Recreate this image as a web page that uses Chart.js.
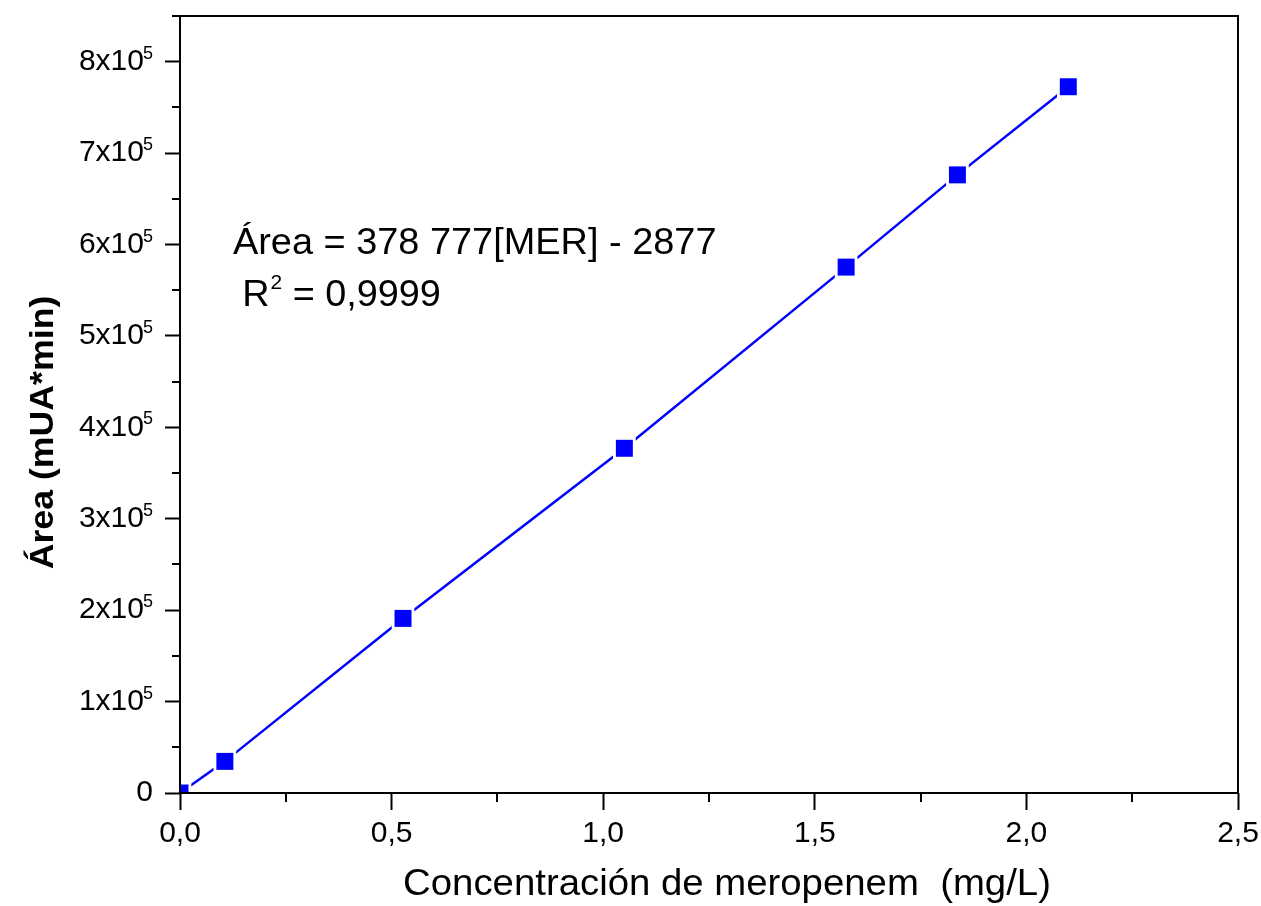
<!DOCTYPE html>
<html>
<head>
<meta charset="UTF-8">
<title>Curva de calibración meropenem</title>
<script src="https://cdn.jsdelivr.net/npm/chart.js"></script>
<style>
  html, body { margin: 0; padding: 0; background: #fff; }
  canvas { display: block; }
</style>
</head>
<body>
<canvas id="calibracion" width="1261" height="906"></canvas>
<script>
// Concentración (mg/L) y área del pico (mUA*min)
const concentracion = [0, 0.106, 0.527, 1.05, 1.574, 1.837, 2.099];
const area = [0, 34600, 191000, 377100, 575300, 676200, 772600];

// Marcas de los ejes
const xMajor = [0, 0.5, 1.0, 1.5, 2.0, 2.5];
const xMinor = [0.25, 0.75, 1.25, 1.75, 2.25];
const yMajor = [0, 100000, 200000, 300000, 400000, 500000, 600000, 700000, 800000];
const yMinor = [50000, 150000, 250000, 350000, 450000, 550000, 650000, 750000, 850000];

// Títulos y texto de la ecuación de ajuste
const tituloX = 'Concentración de meropenem  (mg/L)';
const tituloY = 'Área (mUA*min)';
const ecuacion = 'Área = 378 777[MER] - 2877';
const r2 = '0,9999';

const FONT = "'Liberation Sans', Arial, sans-serif";
const puntos = concentracion.map((c, i) => ({ x: c, y: area[i] }));

// texto algo ensanchado en horizontal
function textoAncho(ctx, txt, x, y, sx, rot) {
  ctx.save();
  ctx.translate(x, y);
  if (rot) ctx.rotate(rot);
  ctx.scale(sx, 1);
  ctx.fillText(txt, 0, 0);
  const w = ctx.measureText(txt).width * sx;
  ctx.restore();
  return w;
}

// marco, marcas menores, etiquetas del eje y, títulos y ecuación
const extras = {
  id: 'extras',
  afterDatasetsDraw(chart) {
    const { ctx, chartArea: a, scales: { x, y } } = chart;
    ctx.save();
    ctx.strokeStyle = '#000';
    ctx.lineWidth = 2;
    ctx.strokeRect(a.left, a.top, a.right - a.left, a.bottom - a.top);
    ctx.beginPath();
    xMinor.forEach(v => {
      const px = Math.round(x.getPixelForValue(v));
      ctx.moveTo(px, a.bottom);
      ctx.lineTo(px, a.bottom + 9);
    });
    yMinor.forEach(v => {
      const py = Math.round(y.getPixelForValue(v));
      ctx.moveTo(a.left, py);
      ctx.lineTo(a.left - 8, py);
    });
    ctx.stroke();

    // etiquetas del eje y con exponente
    ctx.fillStyle = '#000';
    ctx.textAlign = 'right';
    ctx.textBaseline = 'middle';
    yMajor.forEach(v => {
      const py = y.getPixelForValue(v);
      const right = a.left - 27;
      if (v === 0) {
        ctx.font = '30px ' + FONT;
        ctx.fillText('0', right, py);
        return;
      }
      ctx.font = '18px ' + FONT;
      ctx.textBaseline = 'alphabetic';
      ctx.fillText('5', right, py - 3);
      const supW = ctx.measureText('5').width;
      ctx.font = '30px ' + FONT;
      ctx.textBaseline = 'middle';
      ctx.fillText((v / 100000) + 'x10', right - supW + 1, py);
    });

    // títulos de los ejes
    ctx.textAlign = 'center';
    ctx.font = '36px ' + FONT;
    textoAncho(ctx, tituloX, (a.left + a.right) / 2 + 18, 885, 1.065, 0);
    ctx.font = 'bold 34px ' + FONT;
    textoAncho(ctx, tituloY, 44, (a.top + a.bottom) / 2 + 28, 1.05, -Math.PI / 2);

    // ecuación y coeficiente
    ctx.textAlign = 'left';
    ctx.font = '36px ' + FONT;
    textoAncho(ctx, ecuacion, x.getPixelForValue(0.125), y.getPixelForValue(601000), 1.053, 0);
    let px = x.getPixelForValue(0.147);
    const py = y.getPixelForValue(544000);
    px += textoAncho(ctx, 'R', px, py, 1.05, 0) + 1;
    ctx.font = '20px ' + FONT;
    px += textoAncho(ctx, '2', px, py - 12, 1.05, 0);
    ctx.font = '36px ' + FONT;
    textoAncho(ctx, ' = ' + r2, px, py, 1.05, 0);
    ctx.restore();
  }
};

new Chart(document.getElementById('calibracion'), {
  type: 'scatter',
  data: {
    datasets: [
      {
        // marcadores cuadrados
        data: puntos,
        showLine: false,
        pointStyle: 'rect',
        pointRadius: 12,
        pointBackgroundColor: '#0000ff',
        pointBorderWidth: 0,
        clip: 0,
        order: 0
      },
      {
        // recta con huecos alrededor de cada punto
        data: puntos,
        showLine: true,
        borderColor: '#0000ff',
        borderWidth: 2.5,
        pointStyle: 'rect',
        pointRadius: 16,
        pointBackgroundColor: '#ffffff',
        pointBorderWidth: 0,
        clip: 0,
        order: 1
      }
    ]
  },
  options: {
    responsive: false,
    animation: false,
    events: [],
    layout: { padding: { top: 14, right: 23, left: 0, bottom: 0 } },
    plugins: { legend: { display: false }, tooltip: { enabled: false } },
    scales: {
      x: {
        type: 'linear',
        min: 0,
        max: 2.5,
        afterBuildTicks: s => { s.ticks = xMajor.map(v => ({ value: v })); },
        afterFit: s => { s.height = 113; s.paddingRight = 0; },
        border: { display: false },
        grid: { drawOnChartArea: false, tickLength: 17, tickWidth: 2, tickColor: '#000' },
        ticks: {
          color: '#000',
          font: { family: FONT, size: 30 },
          padding: 6,
          maxRotation: 0,
          callback: v => v.toFixed(1).replace('.', ',')
        }
      },
      y: {
        type: 'linear',
        min: 0,
        max: 850000,
        afterBuildTicks: s => { s.ticks = yMajor.map(v => ({ value: v })); },
        afterFit: s => { s.width = 180; },
        border: { display: false },
        grid: { drawOnChartArea: false, tickLength: 15, tickWidth: 2, tickColor: '#000' },
        ticks: { display: false }
      }
    }
  },
  plugins: [extras]
});
</script>
</body>
</html>
